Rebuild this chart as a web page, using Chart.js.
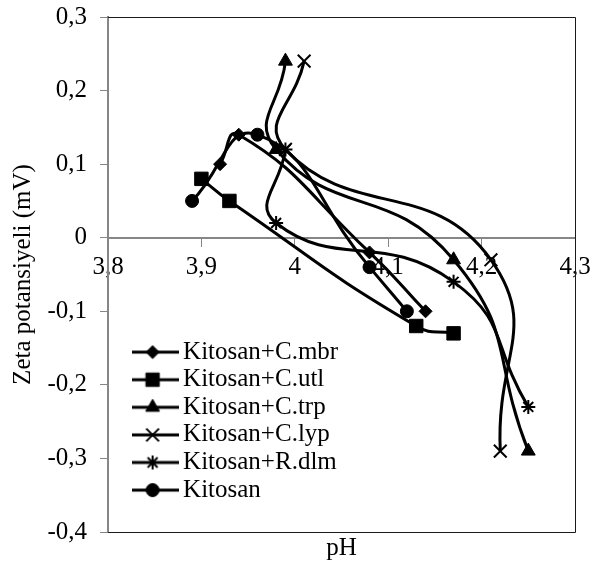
<!DOCTYPE html>
<html>
<head>
<meta charset="utf-8">
<script src="https://cdn.jsdelivr.net/npm/chart.js@4.4.1/dist/chart.umd.min.js"></script>
<style>
  html, body { margin: 0; padding: 0; background: #fff; }
  #wrap { width: 590px; height: 563px; }
</style>
</head>
<body>
<div id="wrap"><canvas id="zetaChart" width="590" height="563"></canvas></div>
<script>
// Zeta potansiyeli vs pH, one small array per series
const seriesNames = ['Kitosan+C.mbr', 'Kitosan+C.utl', 'Kitosan+C.trp', 'Kitosan+C.lyp', 'Kitosan+R.dlm', 'Kitosan'];

const mbrPH = [3.92, 3.94, 4.08, 4.14];
const mbrZeta = [0.10, 0.14, -0.02, -0.10];

const utlPH = [3.90, 3.93, 4.13, 4.17];
const utlZeta = [0.08, 0.05, -0.12, -0.13];

const trpPH = [3.99, 3.98, 4.17, 4.25];
const trpZeta = [0.24, 0.12, -0.03, -0.29];

const lypPH = [4.01, 3.99, 4.21, 4.22];
const lypZeta = [0.24, 0.12, -0.03, -0.29];

const dlmPH = [3.99, 3.98, 4.17, 4.25];
const dlmZeta = [0.12, 0.02, -0.06, -0.23];

const kitPH = [3.89, 3.96, 4.08, 4.12];
const kitZeta = [0.05, 0.14, -0.04, -0.10];

const xTicks = [3.8, 3.9, 4.0, 4.1, 4.2, 4.3];
const xTickLabels = ['3,8', '3,9', '4', '4,1', '4,2', '4,3'];
const yTicks = [-0.4, -0.3, -0.2, -0.1, 0, 0.1, 0.2, 0.3];
const yTickLabels = ['-0,4', '-0,3', '-0,2', '-0,1', '0', '0,1', '0,2', '0,3'];

const FONT = "'Liberation Serif', 'Times New Roman', serif";
Chart.defaults.font.family = FONT;
Chart.defaults.font.size = 25;
Chart.defaults.color = '#000';

const AXIS_GRAY = '#868686';

// marker look per series (same order as seriesNames)
const markers = [
    { style: 'rectRot', radius: 6.5, border: 1 },
    { style: 'rect', radius: 9.5, border: 1 },
    { style: 'triangle', radius: 8, border: 1 },
    { style: 'crossRot', radius: 9, border: 2 },
    { style: 'star', radius: 7, border: 2 },
    { style: 'circle', radius: 6.5, border: 1 }
];

const seriesX = [mbrPH, utlPH, trpPH, lypPH, dlmPH, kitPH];
const seriesY = [mbrZeta, utlZeta, trpZeta, lypZeta, dlmZeta, kitZeta];

function toPoints(xs, ys) {
    return xs.map((x, i) => ({ x: x, y: ys[i] }));
}

const datasets = seriesNames.map((name, i) => ({
    label: name,
    data: toPoints(seriesX[i], seriesY[i]),
    showLine: true,
    tension: 0.5,
    borderColor: '#000',
    borderWidth: 3,
    backgroundColor: '#000',
    pointStyle: markers[i].style,
    pointRadius: markers[i].radius,
    pointHoverRadius: markers[i].radius,
    pointBorderWidth: markers[i].border,
    pointBackgroundColor: '#000',
    pointBorderColor: '#000',
    xAxisID: 'x',
    yAxisID: 'y'
}));

// small canvas with a line and the marker, used as the legend symbol
function legendIcon(ds) {
    const c = document.createElement('canvas');
    c.width = 52;
    c.height = 20;
    const g = c.getContext('2d');
    g.strokeStyle = '#000';
    g.fillStyle = '#000';
    g.lineWidth = 3;
    g.beginPath();
    g.moveTo(0, 10);
    g.lineTo(52, 10);
    g.stroke();
    g.lineWidth = ds.pointBorderWidth;
    if (Chart.helpers && Chart.helpers.drawPoint) {
        Chart.helpers.drawPoint(g, { pointStyle: ds.pointStyle, radius: ds.pointRadius, borderWidth: ds.pointBorderWidth, rotation: 0 }, 26, 10);
    }
    return c;
}

// no extra room for half tick labels, keep the plot box where the original has it
function noLabelPadding(s) {
    s.paddingLeft = 0;
    s.paddingRight = 0;
    s.paddingTop = 0;
    s.paddingBottom = 0;
}

const plotFrame = {
    id: 'plotFrame',
    beforeDatasetsDraw(chart) {
        const { ctx, chartArea: a } = chart;
        ctx.save();
        ctx.strokeStyle = '#1a1a1a';
        ctx.lineWidth = 1;
        ctx.beginPath();
        ctx.moveTo(a.left, Math.round(a.top) + 0.5);
        ctx.lineTo(Math.round(a.right) + 0.5, Math.round(a.top) + 0.5);
        ctx.lineTo(Math.round(a.right) + 0.5, Math.round(a.bottom) + 0.5);
        ctx.lineTo(a.left, Math.round(a.bottom) + 0.5);
        ctx.stroke();
        ctx.restore();
    }
};

// move the in-plot legend down to the lower left corner
const legendPlacer = {
    id: 'legendPlacer',
    afterLayout(chart) {
        const lg = chart.legend;
        const a = chart.chartArea;
        if (!lg) return;
        lg.left = a.left + 24;
        lg.right = a.right;
        lg.top = a.top + 320;
        lg.bottom = a.bottom;
    }
};

new Chart(document.getElementById('zetaChart'), {
    type: 'scatter',
    data: { datasets: datasets },
    options: {
        responsive: false,
        animation: false,
        layout: { padding: { top: 17, right: 15, left: 0, bottom: 0 } },
        plugins: {
            tooltip: { enabled: false },
            legend: {
                position: 'chartArea',
                align: 'start',
                labels: {
                    usePointStyle: true,
                    pointStyleWidth: 36,
                    padding: 2.6,
                    font: { size: 25 },
                    color: '#000',
                    generateLabels: chart => chart.data.datasets.map((ds, i) => ({
                        text: ds.label,
                        pointStyle: legendIcon(ds),
                        fillStyle: '#000',
                        strokeStyle: '#000',
                        lineWidth: 0,
                        hidden: false,
                        datasetIndex: i
                    }))
                }
            }
        },
        scales: {
            x: {
                type: 'linear',
                position: { y: 0 },
                min: 3.8,
                max: 4.3,
                afterBuildTicks: s => { s.ticks = xTicks.map(v => ({ value: v })); },
                afterFit: noLabelPadding,
                ticks: {
                    callback: (v, i) => xTickLabels[i],
                    autoSkip: false,
                    maxRotation: 0,
                    padding: 7,
                    font: { size: 25 }
                },
                grid: { drawOnChartArea: false, tickLength: 8, color: AXIS_GRAY },
                border: { color: AXIS_GRAY, width: 2 }
            },
            xTitle: {
                type: 'linear',
                axis: 'x',
                position: 'bottom',
                min: 3.8,
                max: 4.3,
                ticks: { display: false },
                grid: { display: false },
                border: { display: false },
                title: { display: true, text: 'pH', padding: { top: 0, bottom: 0 }, font: { size: 25 } },
                afterFit: s => { noLabelPadding(s); s.height = 31; }
            },
            y: {
                type: 'linear',
                position: 'left',
                min: -0.4,
                max: 0.3,
                afterBuildTicks: s => { s.ticks = yTicks.map(v => ({ value: v })); },
                ticks: {
                    callback: (v, i) => yTickLabels[i],
                    padding: 13,
                    font: { size: 25 }
                },
                grid: { drawOnChartArea: false, tickLength: 8, color: AXIS_GRAY },
                border: { color: AXIS_GRAY, width: 2 },
                title: { display: true, text: 'Zeta potansiyeli (mV)', padding: { top: 8, bottom: 0 }, font: { size: 25 } },
                afterFit: s => { noLabelPadding(s); s.width = 108; }
            }
        }
    },
    plugins: [plotFrame, legendPlacer]
});
</script>
</body>
</html>
